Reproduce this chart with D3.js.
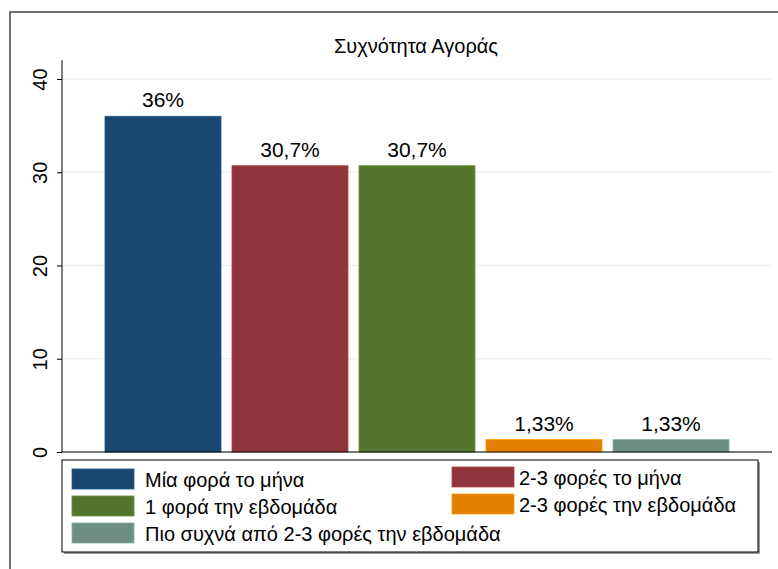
<!DOCTYPE html>
<html lang="el">
<head>
<meta charset="UTF-8">
<title>Συχνότητα Αγοράς</title>
<script src="https://d3js.org/d3.v7.min.js"></script>
<style>
  body { margin: 0; background: #fff; font-family: "Liberation Sans", Arial, sans-serif; }
  svg { display: block; }
  .tick text { font-size: 20px; fill: #000; }
</style>
</head>
<body>
<script>
// données
const categories = ["Μία φορά το μήνα", "2-3 φορές το μήνα", "1 φορά την εβδομάδα",
                    "2-3 φορές την εβδομάδα", "Πιο συχνά από 2-3 φορές την εβδομάδα"];
const values = [36, 30.7, 30.7, 1.33, 1.33];
const valueLabels = ["36%", "30,7%", "30,7%", "1,33%", "1,33%"];
const yTicks = [0, 10, 20, 30, 40];
const colors = ["#1a476f", "#90353b", "#55752f", "#e37e00", "#6e8e84"];

const width = 778, height = 569;
const margin = { top: 79, right: 6, bottom: 117, left: 62 };

const svg = d3.select("body").append("svg")
  .attr("width", width).attr("height", height);

// cadre extérieur
svg.append("rect")
  .attr("x", 10).attr("y", 12)
  .attr("width", width).attr("height", height)
  .attr("fill", "none").attr("stroke", "#444").attr("stroke-width", 1.5);

svg.append("text")
  .attr("x", 416).attr("y", 53)
  .attr("text-anchor", "middle")
  .style("font-size", "20px")
  .text("Συχνότητα Αγοράς");

const x = d3.scaleBand()
  .domain(categories)
  .range([105, 729])
  .paddingInner(11 / 127)
  .paddingOuter(0);

const y = d3.scaleLinear()
  .domain([0, 40])
  .range([height - margin.bottom, margin.top]);

// grille
svg.append("g")
  .selectAll("line")
  .data(yTicks)
  .join("line")
  .attr("x1", margin.left).attr("x2", 772)
  .attr("y1", d => y(d)).attr("y2", d => y(d))
  .attr("stroke", "#eaf2f3").attr("stroke-width", 1.5);

// barres
svg.append("g")
  .selectAll("rect")
  .data(values)
  .join("rect")
  .attr("x", (d, i) => x(categories[i]))
  .attr("y", d => y(d))
  .attr("width", x.bandwidth())
  .attr("height", d => y(0) - y(d))
  .attr("fill", (d, i) => colors[i])
  .attr("stroke", (d, i) => d3.color(colors[i]).brighter(0.6))
  .attr("stroke-width", 0.8);

// étiquettes de valeur
svg.append("g")
  .selectAll("text")
  .data(values)
  .join("text")
  .attr("x", (d, i) => x(categories[i]) + x.bandwidth() / 2)
  .attr("y", d => y(d) - 9)
  .attr("text-anchor", "middle")
  .style("font-size", "21px")
  .text((d, i) => valueLabels[i]);

// axe Y
const yAxis = svg.append("g")
  .attr("transform", `translate(${margin.left},0)`)
  .call(d3.axisLeft(y).tickValues(yTicks).tickSize(5).tickPadding(0).tickFormat(d3.format("d")));
yAxis.select(".domain").attr("d", `M0,${y(0)}V${y(42)}`).attr("stroke", "#000");
yAxis.selectAll(".tick line").attr("stroke", "#000");
yAxis.selectAll(".tick text")
  .attr("x", 0).attr("dy", 0)
  .attr("text-anchor", "middle")
  .attr("transform", "translate(-15,0) rotate(-90)");

// axe X (ligne de base)
svg.append("line")
  .attr("x1", margin.left).attr("x2", 772)
  .attr("y1", y(0)).attr("y2", y(0))
  .attr("stroke", "#000").attr("stroke-width", 1);

// légende
const legend = svg.append("g");
legend.append("rect")
  .attr("x", 64).attr("y", 462).attr("width", 696).attr("height", 92)
  .attr("fill", "#999");
legend.append("rect")
  .attr("x", 62).attr("y", 460).attr("width", 696).attr("height", 92)
  .attr("fill", "#fff").attr("stroke", "#000");

const legendPos = [[72, 469], [452, 467], [72, 496], [452, 494], [72, 523]];
const items = legend.selectAll("g.item")
  .data(categories)
  .join("g")
  .attr("class", "item")
  .attr("transform", (d, i) => `translate(${legendPos[i][0]},${legendPos[i][1]})`);
items.append("rect")
  .attr("width", 62).attr("height", 20)
  .attr("fill", (d, i) => colors[i])
  .attr("stroke", (d, i) => d3.color(colors[i]).brighter(0.6))
  .attr("stroke-width", 0.8);
items.append("text")
  .attr("x", (d, i) => i % 2 === 0 ? 73 : 67)
  .attr("y", 18)
  .style("font-size", "20px")
  .text(d => d);
</script>
</body>
</html>
